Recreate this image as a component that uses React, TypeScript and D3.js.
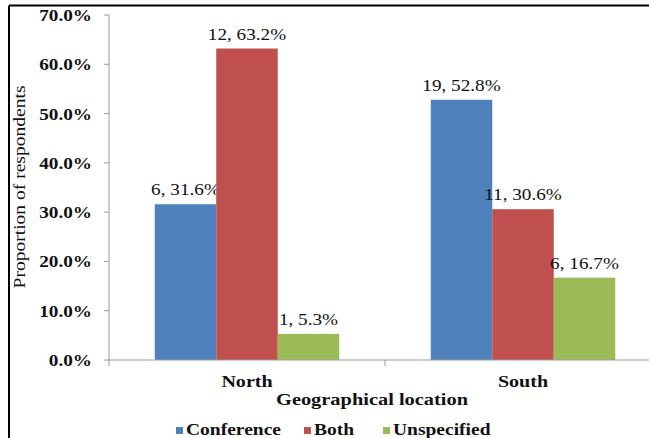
import React from "react";
import * as d3 from "d3";

// Respondents by geographical location
const regions = ["North", "South"];
const seriesNames = ["Conference", "Both", "Unspecified"];
const seriesColors = ["#4F81BD", "#C0504D", "#9BBB59"];
const counts = [
  [6, 12, 1],
  [19, 11, 6],
];
const shares = [
  [31.6, 63.2, 5.3],
  [52.8, 30.6, 16.7],
];
const yTicks = [0, 10, 20, 30, 40, 50, 60, 70];

const W = 649;
const H = 438;
const plotLeft = 109;
const plotRight = 661;
const plotTop = 15;
const plotBottom = 360;
const serif = "'Liberation Serif', 'Times New Roman', serif";

function Txt(props: {
  x: number;
  y: number;
  size: number;
  bold?: boolean;
  anchor?: string;
  sx?: number;
  rotate?: number;
  children: React.ReactNode;
}) {
  const { x, y, size, bold, anchor = "middle", sx = 1.15, rotate = 0, children } = props;
  return (
    <g transform={`translate(${x},${y}) rotate(${rotate}) scale(${sx},1)`}>
      <text
        x={0}
        y={0}
        fontFamily={serif}
        fontSize={size}
        fontWeight={bold ? "bold" : "normal"}
        textAnchor={anchor}
        fill="#111"
      >
        {children}
      </text>
    </g>
  );
}

export default function App() {
  const y = d3.scaleLinear().domain([0, 70]).range([plotBottom, plotTop]);
  const x0 = d3.scaleBand<string>().domain(regions).range([plotLeft, plotRight]);
  const x1 = d3
    .scaleBand<string>()
    .domain(seriesNames)
    .range([0, x0.bandwidth()])
    .paddingOuter(0.744);

  const axisColor = "#9a9a9a";

  return (
    <svg
      width={W}
      height={H}
      style={{ position: "absolute", left: 0, top: 0, background: "#fff" }}
    >
      <rect x={0} y={0} width={W} height={H} fill="#fff" />
      {/* frame */}
      <line x1={9} y1={5.5} x2={W} y2={5.5} stroke="#000" strokeWidth={2} />
      <line x1={9} y1={5.5} x2={9} y2={H} stroke="#000" strokeWidth={2} />

      {/* bars */}
      {regions.map((r, ri) =>
        seriesNames.map((s, si) => {
          const v = shares[ri][si];
          const bx = (x0(r) as number) + (x1(s) as number);
          const bw = x1.bandwidth();
          return (
            <g key={r + s}>
              <rect
                x={bx}
                y={y(v)}
                width={bw}
                height={plotBottom - y(v)}
                fill={seriesColors[si]}
              />
              <Txt x={bx + bw / 2} y={y(v) - 9} size={17} sx={1.13}>
                {`${counts[ri][si]}, ${v.toFixed(1)}%`}
              </Txt>
            </g>
          );
        })
      )}

      {/* y axis */}
      <line x1={plotLeft} y1={plotTop} x2={plotLeft} y2={plotBottom} stroke={axisColor} />
      {yTicks.map((t) => (
        <g key={t}>
          <line x1={plotLeft - 5} y1={y(t)} x2={plotLeft} y2={y(t)} stroke={axisColor} />
          <Txt x={92} y={y(t) + 6} size={16} bold anchor="end" sx={1.2}>
            {`${t.toFixed(1)}%`}
          </Txt>
        </g>
      ))}

      {/* x axis */}
      <line x1={plotLeft} y1={plotBottom} x2={plotRight} y2={plotBottom} stroke={axisColor} />
      {[plotLeft, ...regions.map((r) => (x0(r) as number) + x0.bandwidth())].map((tx, i) => (
        <line key={i} x1={tx} y1={plotBottom} x2={tx} y2={plotBottom + 6} stroke={axisColor} />
      ))}
      {regions.map((r) => (
        <Txt key={r} x={(x0(r) as number) + x0.bandwidth() / 2} y={387} size={17} bold sx={1.18}>
          {r}
        </Txt>
      ))}

      {/* axis titles */}
      <Txt x={372} y={405} size={17} bold sx={1.2}>
        Geographical location
      </Txt>
      <g transform="translate(25,187) rotate(-90)">
        <text
          x={0}
          y={0}
          fontFamily={serif}
          fontSize={17}
          textAnchor="middle"
          fill="#111"
          textLength={203}
          lengthAdjust="spacingAndGlyphs"
        >
          Proportion of respondents
        </text>
      </g>

      {/* legend */}
      {seriesNames.map((s, i) => {
        const lx = [176, 304, 383][i];
        return (
          <g key={s}>
            <rect x={lx} y={427} width={7} height={7} fill={seriesColors[i]} />
            <Txt x={lx + 10} y={435} size={16} bold anchor="start" sx={1.22}>
              {s}
            </Txt>
          </g>
        );
      })}
    </svg>
  );
}
